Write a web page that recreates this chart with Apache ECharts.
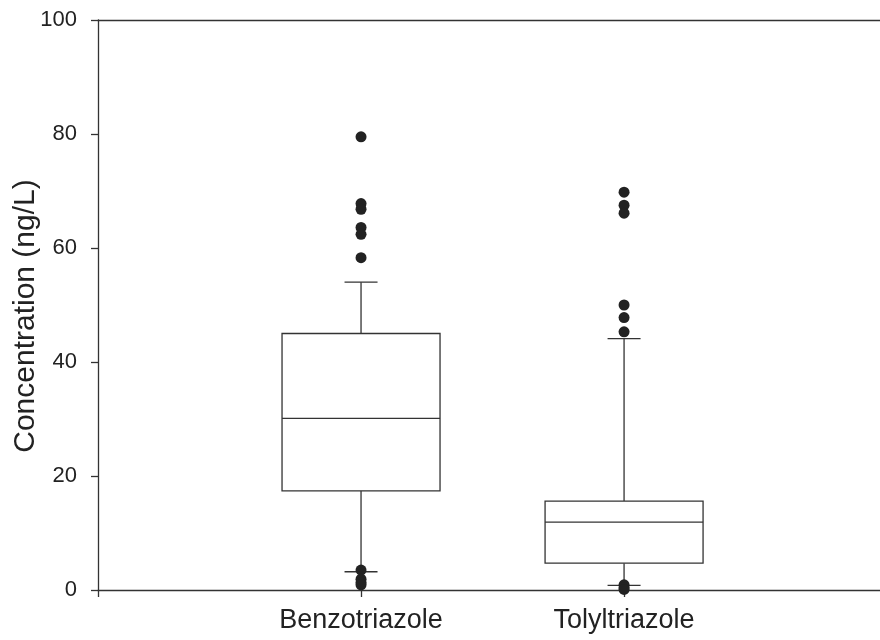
<!DOCTYPE html>
<html>
<head>
<meta charset="utf-8">
<script src="https://cdn.jsdelivr.net/npm/echarts@6/dist/echarts.min.js"></script>
<style>html,body{margin:0;padding:0;background:#fff}#chart{width:880px;height:640px}</style>
</head>
<body>
<div id="chart"></div>
<script>
var categories = ['Benzotriazole', 'Tolyltriazole'];
// lower whisker, Q1, median, Q3, upper whisker
var benzoBox = [3.2, 17.4, 30.1, 45.0, 54.0];
var tolylBox = [0.8, 4.7, 11.9, 15.6, 44.1];
var benzoOutliers = [79.5, 67.8, 66.8, 63.6, 62.4, 58.3, 3.5, 1.9, 1.3, 0.9];
var tolylOutliers = [69.8, 67.5, 66.1, 50.0, 47.8, 45.3, 0.9, 0.4, 0.1];
var yTicks = [0, 20, 40, 60, 80, 100];

var lineColor = '#333';
var textColor = '#222';

var boxData = [[1].concat(benzoBox), [2].concat(tolylBox)];
var outlierData = benzoOutliers.map(function (v) { return [1, v]; })
    .concat(tolylOutliers.map(function (v) { return [2, v]; }));

function renderBox(params, api) {
    var x = api.value(0);
    var p = [1, 2, 3, 4, 5].map(function (d) { return api.coord([x, api.value(d)]); });
    var cx = p[0][0];
    var half = 79, cap = 16.5;
    var st = { stroke: lineColor, lineWidth: 1.3, fill: null };
    return {
        type: 'group',
        children: [
            { type: 'line', shape: { x1: cx, y1: p[0][1], x2: cx, y2: p[1][1] }, style: st },
            { type: 'line', shape: { x1: cx, y1: p[3][1], x2: cx, y2: p[4][1] }, style: st },
            { type: 'line', shape: { x1: cx - cap, y1: p[0][1], x2: cx + cap, y2: p[0][1] }, style: st },
            { type: 'line', shape: { x1: cx - cap, y1: p[4][1], x2: cx + cap, y2: p[4][1] }, style: st },
            { type: 'rect', shape: { x: cx - half, y: p[3][1], width: half * 2, height: p[1][1] - p[3][1] },
              style: { stroke: lineColor, lineWidth: 1.3, fill: '#fff' } },
            { type: 'line', shape: { x1: cx - half, y1: p[2][1], x2: cx + half, y2: p[2][1] }, style: st }
        ]
    };
}

var axisLine = { lineStyle: { color: lineColor, width: 1.3 } };
var tick = { show: true, inside: false, length: 7, lineStyle: { color: lineColor, width: 1.3 } };

var myChart = echarts.init(document.getElementById('chart'));
option = {
    backgroundColor: '#fff',
    animation: false,
    grid: { left: 98, top: 20, right: 0, height: 570 },
    graphic: [{
        type: 'text', x: 26, y: 316, rotation: Math.PI / 2,
        style: { text: 'Concentration (ng/L)', font: '30px "Liberation Sans", Arial', align: 'center', verticalAlign: 'middle', fill: textColor }
    }],
    xAxis: [{
        type: 'value', min: 0, max: 2.973, interval: 1,
        splitLine: { show: false },
        axisLine: axisLine,
        axisTick: tick,
        axisLabel: {
            margin: 17, fontSize: 27, color: textColor, fontFamily: '"Liberation Sans", Arial',
            showMaxLabel: false,
            formatter: function (v) { return categories[v - 1] || ''; }
        }
    }, {
        type: 'value', position: 'top', min: 0, max: 2.973,
        splitLine: { show: false },
        axisLine: axisLine,
        axisTick: { show: false },
        axisLabel: { show: false }
    }],
    yAxis: {
        type: 'value', min: yTicks[0], max: yTicks[yTicks.length - 1], interval: yTicks[1] - yTicks[0],
        splitLine: { show: false },
        axisLine: { show: true, lineStyle: { color: lineColor, width: 1.3 } },
        axisTick: tick,
        axisLabel: { margin: 21, fontSize: 22, color: textColor, fontFamily: '"Liberation Sans", Arial' }
    },
    series: [{
        type: 'custom',
        renderItem: renderBox,
        data: boxData,
        encode: { x: 0, y: [1, 2, 3, 4, 5] },
        z: 2
    }, {
        type: 'scatter',
        data: outlierData,
        symbol: 'circle',
        symbolSize: 11,
        itemStyle: { color: '#222', opacity: 1 },
        z: 3
    }]
};
myChart.setOption(option);
</script>
</body>
</html>
